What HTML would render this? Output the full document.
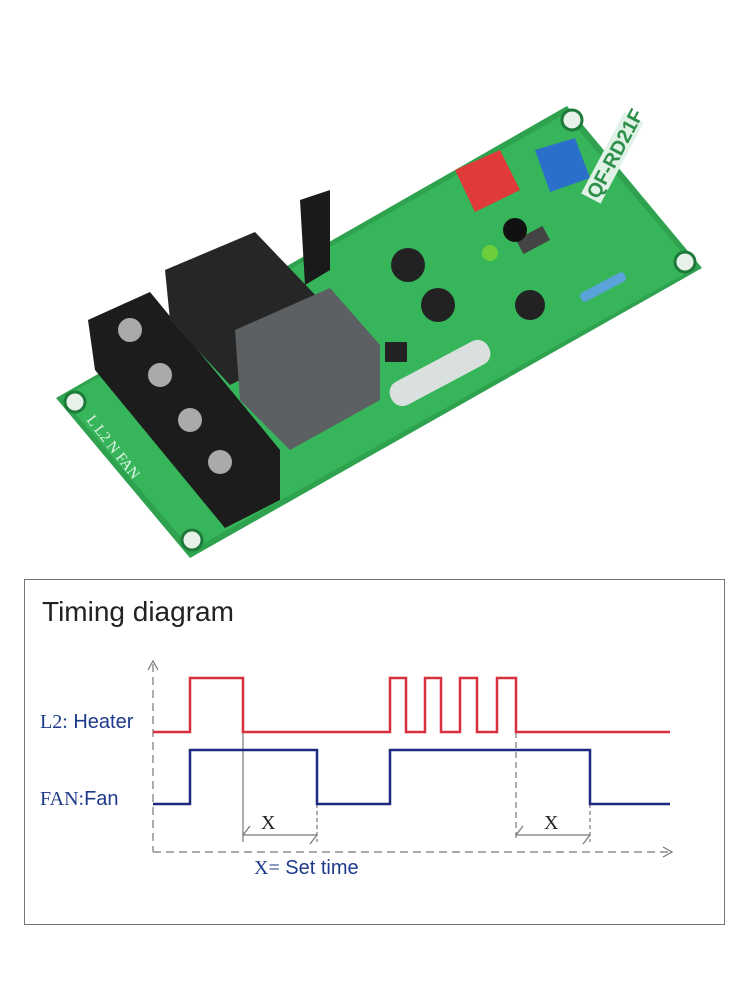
<!DOCTYPE html>
<html><head><meta charset="utf-8"><style>
html,body{margin:0;padding:0;background:#fff;width:750px;height:1000px;overflow:hidden}
</style></head><body>
<svg width="750" height="1000" viewBox="0 0 750 1000" xmlns="http://www.w3.org/2000/svg" font-family="Liberation Sans, sans-serif">
<polygon points="56,398 190,558 702,268 567,106" fill="#2ea24f"/>
<polygon points="62,398 192,550 695,268 565,114" fill="#36b55a"/>
<circle cx="75" cy="402" r="10" fill="#e8f0ea" stroke="#1e7a3a" stroke-width="3"/>
<circle cx="192" cy="540" r="10" fill="#e8f0ea" stroke="#1e7a3a" stroke-width="3"/>
<circle cx="572" cy="120" r="10" fill="#e8f0ea" stroke="#1e7a3a" stroke-width="3"/>
<circle cx="685" cy="262" r="10" fill="#e8f0ea" stroke="#1e7a3a" stroke-width="3"/>
<polygon points="88,320 150,292 280,450 280,500 225,528 95,370" fill="#1c1c1c"/>
<circle cx="130" cy="330" r="12" fill="#aaa"/><circle cx="160" cy="375" r="12" fill="#aaa"/>
<circle cx="190" cy="420" r="12" fill="#aaa"/><circle cx="220" cy="462" r="12" fill="#aaa"/>
<polygon points="165,270 255,232 320,300 320,340 230,385 170,320" fill="#262626"/>
<polygon points="300,200 330,190 330,270 305,285" fill="#1a1a1a"/>
<polygon points="235,330 330,288 380,345 380,400 290,450 240,400" fill="#5c6062"/>
<polygon points="455,170 500,150 520,190 475,212" fill="#e03a3a"/>
<polygon points="535,150 575,138 590,178 550,192" fill="#2a6fc9"/>
<circle cx="408" cy="265" r="17" fill="#222"/><circle cx="438" cy="305" r="17" fill="#222"/>
<circle cx="530" cy="305" r="15" fill="#222"/>
<rect x="518" y="232" width="30" height="16" fill="#444" transform="rotate(-28 533 240)"/>
<circle cx="490" cy="253" r="8" fill="#6ccf3a"/>
<circle cx="515" cy="230" r="12" fill="#111"/>
<rect x="385" y="360" width="110" height="26" rx="12" fill="#d9e0dd" transform="rotate(-28 440 373)"/>
<rect x="385" y="342" width="22" height="20" fill="#222"/>
<rect x="578" y="282" width="50" height="10" rx="4" fill="#5aa3d8" transform="rotate(-28 603 287)"/>
<text font-family="Liberation Serif, serif" font-size="15" fill="#e6f5ea" transform="translate(86,420) rotate(52)">L   L2   N  FAN</text>
<g transform="translate(598,200) rotate(-62)">
<rect x="-2" y="-18" width="92" height="22" fill="#e0f2e6"/>
<text x="0" y="0" font-size="20" fill="#2e8f4a" font-weight="bold">QF-RD21F</text>
</g>
<rect x="24.5" y="579.5" width="700" height="345" fill="#fff" stroke="#777" stroke-width="1"/>
<text x="42" y="621" font-size="28" fill="#222">Timing diagram</text>
<g stroke="#777" stroke-width="1.2" fill="none">
<line x1="153" y1="664" x2="153" y2="852" stroke-dasharray="8,5"/>
<line x1="153" y1="852" x2="670" y2="852" stroke-dasharray="8,5"/>
<polyline points="148,670 153,661 158,670"/>
<polyline points="663,847 672,852 663,857"/>
<line x1="243" y1="732" x2="243" y2="842"/>
<line x1="317" y1="804" x2="317" y2="842" stroke-dasharray="4,3"/>
<line x1="516" y1="732" x2="516" y2="842" stroke-dasharray="6,4"/>
<line x1="590" y1="804" x2="590" y2="842" stroke-dasharray="4,3"/>
<line x1="243" y1="835" x2="317" y2="835"/>
<line x1="516" y1="835" x2="590" y2="835"/>
<polyline points="250,826 243,835"/><polyline points="310,844 317,835"/>
<polyline points="523,826 516,835"/><polyline points="583,844 590,835"/>
</g>
<polyline fill="none" stroke="#d8303c" stroke-width="2.5" points="153,732 190,732 190,678 243,678 243,732 390,732 390,678 406,678 406,732 425,732 425,678 441,678 441,732 460,732 460,678 477,678 477,732 497,732 497,678 516,678 516,732 670,732"/>
<polyline fill="none" stroke="#1e2a80" stroke-width="2.5" points="153,804 190,804 190,750 317,750 317,804 390,804 390,750 590,750 590,804 670,804"/>
<text x="40" y="728" font-size="20" fill="#1e3a8a"><tspan font-family="Liberation Serif, serif">L2:</tspan> Heater</text>
<text x="40" y="805" font-size="20" fill="#1e3a8a"><tspan font-family="Liberation Serif, serif">FAN:</tspan>Fan</text>
<text x="261" y="829" font-size="20" font-family="Liberation Serif, serif" fill="#222">X</text>
<text x="544" y="829" font-size="20" font-family="Liberation Serif, serif" fill="#222">X</text>
<text x="254" y="874" font-size="20" fill="#1e3a8a"><tspan font-family="Liberation Serif, serif">X=</tspan> Set time</text>
</svg>
</body></html>
